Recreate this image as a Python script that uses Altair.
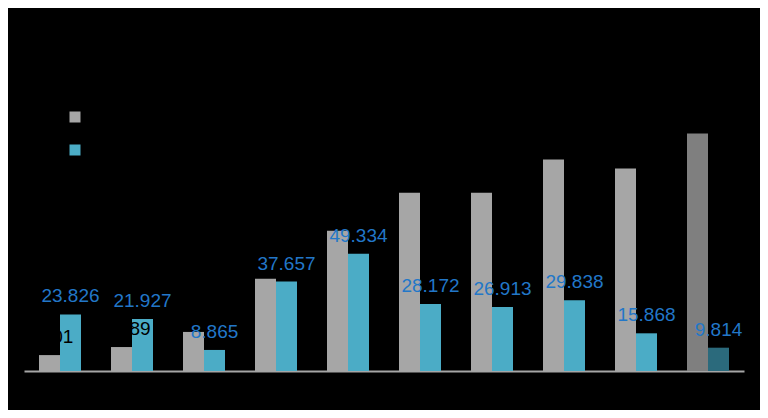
import altair as alt
import pandas as pd

categories = ["2013", "2014", "2015", "2016", "2017", "2018", "2019", "2020", "2021", "2022"]
series_names = ["Series 1", "Series 2"]
grey_values = [6.701, 10.089, 16.452, 38.815, 59.073, 75.104, 75.021, 89.027, 85.236, 99.986]
blue_values = [23.826, 21.927, 8.865, 37.657, 49.334, 28.172, 26.913, 29.838, 15.868, 9.814]
highlight_category = "2022"

rows = []
for i, c in enumerate(categories):
    for s, vals, k in ((series_names[0], grey_values, "g"), (series_names[1], blue_values, "b")):
        key = k + ("_hl" if c == highlight_category else "")
        rows.append({"category": c, "series": s, "value": vals[i], "key": key})
df = pd.DataFrame(rows)

x_enc = alt.X("category:N", sort=categories, title=None,
              scale=alt.Scale(paddingInner=30 / 72, paddingOuter=15 / 72),
              axis=alt.Axis(domainColor="#A6A6A6", domainWidth=2, ticks=False,
                            labelColor="#000000", labelFontSize=16, labelAngle=0,
                            labelFont="Liberation Sans", labelPadding=8, grid=False))
xo_enc = alt.XOffset("series:N", sort=series_names,
                     scale=alt.Scale(paddingInner=0, paddingOuter=0))
y_enc = alt.Y("value:Q", scale=alt.Scale(domain=[0, 120], nice=False), axis=None)

bars = alt.Chart(df).mark_bar().encode(
    x=x_enc,
    xOffset=xo_enc,
    y=y_enc,
    color=alt.Color(
        "key:N",
        scale=alt.Scale(domain=["g", "b", "g_hl", "b_hl"],
                        range=["#A6A6A6", "#4BACC6", "#7F7F7F", "#2B6A7C"]),
        legend=alt.Legend(
            values=["g", "b"],
            labelExpr="datum.value == 'g' ? 'Series 1' : 'Series 2'",
            title=None, orient="none", legendX=42, legendY=22,
            symbolType="square", symbolSize=121, symbolStrokeWidth=0,
            labelColor="#000000", labelFontSize=18, labelFont="Liberation Sans",
            rowPadding=15, padding=0,
        ),
    ),
)

labels = alt.Chart(df).mark_text(
    baseline="alphabetic", align="center", dy=-12, fontSize=19,
    font="Liberation Sans",
).encode(
    x=x_enc,
    xOffset=xo_enc,
    y=y_enc,
    text=alt.Text("value:Q", format=".3f"),
    color=alt.condition(alt.datum.series == series_names[0],
                        alt.value("#000000"), alt.value("#2277C8")),
)

chart = alt.layer(bars, labels).properties(
    width=720, height=285,
    background="#000000",
    padding={"left": 16, "top": 78, "right": 16, "bottom": 39},
    autosize=alt.AutoSizeParams(type="none"),
).configure_view(stroke=None)

chart.save("out.html", embed_options={"renderer": "svg", "actions": False})
